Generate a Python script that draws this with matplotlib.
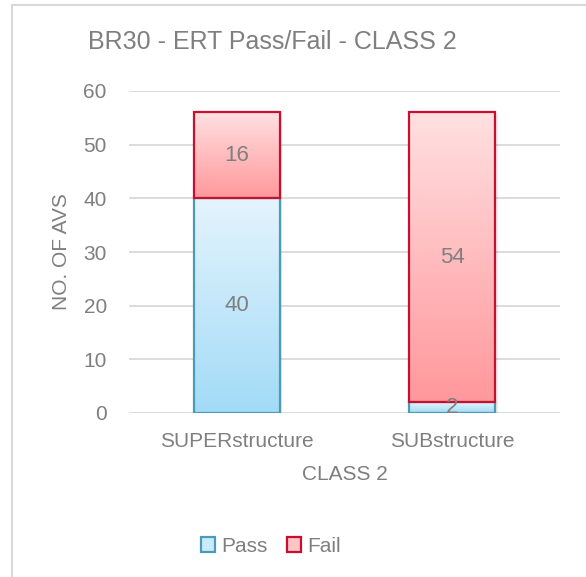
import numpy as np
import matplotlib.pyplot as plt
from matplotlib.colors import LinearSegmentedColormap
from matplotlib.patches import Patch
from matplotlib.lines import Line2D

plt.rcParams['font.family'] = ['Liberation Sans', 'DejaVu Sans']

categories = ['SUPERstructure', 'SUBstructure']
pass_vals = [40, 2]
fail_vals = [16, 54]
series = ['Pass', 'Fail']

title = 'BR30 - ERT Pass/Fail - CLASS 2'
xlabel = 'CLASS 2'
ylabel = 'NO. OF AVS'

text_col = '#7f7f7f'
grid_col = '#d9d9d9'
pass_top, pass_bot, pass_edge = '#e4f4fd', '#a2dbf7', '#4b9bb7'
fail_top, fail_bot, fail_edge = '#ffe0e1', '#ff989c', '#c8102e'

W, H = 586, 577
fig = plt.figure(figsize=(W / 100, H / 100), dpi=100)
ax = fig.add_axes([129 / W, 1 - 413 / H, 431 / W, 322 / H])

x = np.arange(len(categories))
width = 0.4


def gradient_bars(bottoms, heights, top, bot, edge):
    cmap = LinearSegmentedColormap.from_list('g', [bot, top])
    grad = np.linspace(0, 1, 256).reshape(-1, 1)
    bars = ax.bar(x, heights, width, bottom=bottoms, color='none',
                  edgecolor=edge, linewidth=1.6, zorder=4)
    for b in bars:
        bx, by = b.get_x(), b.get_y()
        bw, bh = b.get_width(), b.get_height()
        # soft shadow
        ax.add_patch(plt.Rectangle((bx + 0.012, by - 0.3), bw, bh,
                                   color='#000000', alpha=0.08, lw=0, zorder=2))
        im = ax.imshow(grad, cmap=cmap, origin='lower', aspect='auto',
                       extent=(bx, bx + bw, by, by + bh), zorder=3)
        im.set_clip_path(b)
    return bars


gradient_bars([0, 0], pass_vals, pass_top, pass_bot, pass_edge)
gradient_bars(pass_vals, fail_vals, fail_top, fail_bot, fail_edge)

for i in range(len(categories)):
    ax.text(x[i], pass_vals[i] / 2, str(pass_vals[i]), ha='center', va='center',
            fontsize=16, color=text_col, zorder=6)
    ax.text(x[i], pass_vals[i] + fail_vals[i] / 2, str(fail_vals[i]), ha='center',
            va='center', fontsize=16, color=text_col, zorder=6)

ax.set_xlim(-0.5, 1.5)
ax.set_ylim(0, 60)
ax.set_yticks(range(0, 61, 10))
ax.set_xticks(x)
ax.set_xticklabels(categories)
ax.tick_params(length=0, labelsize=15, labelcolor=text_col)
ax.tick_params(axis='y', pad=16)
ax.tick_params(axis='x', pad=14)
ax.yaxis.grid(True, color=grid_col, linewidth=1.3)
ax.set_axisbelow(True)
for s in ax.spines.values():
    s.set_visible(False)
ax.set_xlabel(xlabel, fontsize=15, color=text_col, labelpad=10)
ax.set_ylabel(ylabel, fontsize=15, color=text_col, labelpad=9)

fig.text(272 / W, 1 - 42 / H, title, ha='center', va='center', fontsize=18, color=text_col)

handles = [Patch(facecolor='#c9eafb', edgecolor=pass_edge, linewidth=1.6),
           Patch(facecolor='#ffc4c6', edgecolor=fail_edge, linewidth=1.6)]
fig.legend(handles, series, loc='center', bbox_to_anchor=(271 / W, 1 - 546 / H),
           ncol=2, frameon=False, fontsize=15, handlelength=0.7, handleheight=0.7,
           handletextpad=0.3, columnspacing=0.9, labelcolor=text_col)

# chart border (left and top edges visible)
fig.add_artist(Line2D([12 / W, 12 / W], [0, 1 - 5 / H], color=grid_col, lw=1.5))
fig.add_artist(Line2D([12 / W, 1], [1 - 5 / H, 1 - 5 / H], color=grid_col, lw=1.5))

fig.savefig('out.png', dpi=100, facecolor='white')
